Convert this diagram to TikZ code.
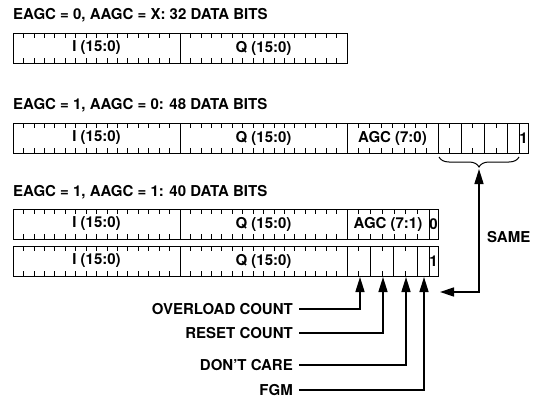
\documentclass[tikz,border=0pt]{standalone}
\usepackage{fontspec}
\setmainfont{TeX Gyre Heros}
\usetikzlibrary{arrows.meta,decorations.pathreplacing}
\newcommand\bitticks[5]{\foreach \k in {1,...,#3}{\draw[bittick] ({#1+\k*#2},#4) -- ++(0,5) ({#1+\k*#2},#5) -- ++(0,-5);}}
\begin{document}
\begin{tikzpicture}[x=1pt,y=-1pt,
  every node/.style={inner sep=0pt, font=\fontsize{15}{15}\selectfont\bfseries},
  fld/.style={draw, line width=0.9pt, minimum height=30pt},
  bittick/.style={line width=0.7pt},
  divline/.style={line width=0.9pt},
  title/.style={anchor=base west},
  lbl/.style={anchor=east},
  conn/.style={line width=1.5pt, -{Triangle[length=15pt,width=9pt]}},
  sameconn/.style={line width=1.5pt, {Triangle[length=14pt,width=9pt]}-{Triangle[length=15pt,width=9pt]}},
  bracestyle/.style={line width=1pt, decorate, decoration={brace, mirror, amplitude=10pt}}
]
\fill[white] (0,0) rectangle (540,401);

% ---- Row 1
\node[title] (t1) at (13,20) {EAGC = 0, AAGC = X: 32 DATA BITS};
\node[fld, minimum width=167pt] (r1i) at (96.5,48) {I (15:0)};
\node[fld, minimum width=167pt] (r1q) at (263.5,48) {Q (15:0)};
\bitticks{13}{10.4375}{15}{33}{63}
\bitticks{180}{10.4375}{15}{33}{63}

% ---- Row 2
\node[title] (t2) at (13,110) {EAGC = 1, AAGC = 0: 48 DATA BITS};
\node[fld, minimum width=167pt] (r2i) at (96.5,138) {I (15:0)};
\node[fld, minimum width=167pt] (r2q) at (263.5,138) {Q (15:0)};
\node[fld, minimum width=91pt] (r2a) at (392.5,138) {AGC (7:0)};
\node[fld, minimum width=81pt] (r2b) at (478.5,138) {};
\node[fld, minimum width=9pt] (r2f) at (523.5,138) {1};
\bitticks{13}{10.4375}{15}{123}{153}
\bitticks{180}{10.4375}{15}{123}{153}
\bitticks{347}{11.375}{7}{123}{153}
\foreach \x in {461.1,484.3,507.4} \draw[divline] (\x,123) -- (\x,153);
\foreach \x in {449.6,472.7,495.9} \draw[bittick] (\x,123) -- ++(0,5) (\x,153) -- ++(0,-5);
\coordinate (brL) at (439,157);
\coordinate (brR) at (519,157);
\draw[bracestyle] (brL) -- (brR);
\coordinate (brtip) at (479,169);

% ---- Row 3
\node[title] (t3) at (13,196) {EAGC = 1, AAGC = 1: 40 DATA BITS};
\node[fld, minimum width=167pt] (r3i) at (96.5,224) {I (15:0)};
\node[fld, minimum width=167pt] (r3q) at (263.5,224) {Q (15:0)};
\node[fld, minimum width=82pt] (r3a) at (388,224) {AGC (7:1)};
\node[fld, minimum width=9pt] (r3f) at (433.5,224) {0};
\bitticks{13}{10.4375}{15}{209}{239}
\bitticks{180}{10.4375}{15}{209}{239}
\bitticks{347}{11.714}{6}{209}{239}

% ---- Row 4
\node[fld, minimum width=167pt] (r4i) at (96.5,261) {I (15:0)};
\node[fld, minimum width=167pt] (r4q) at (263.5,261) {Q (15:0)};
\node[fld, minimum width=82pt] (r4b) at (388,261) {};
\node[fld, minimum width=9pt] (r4f) at (433.5,261) {1};
\bitticks{13}{10.4375}{15}{246}{276}
\bitticks{180}{10.4375}{15}{246}{276}
\foreach \x in {370.4,393.9,417.3} \draw[divline] (\x,246) -- (\x,276);
\foreach \x in {358.7,382.1,405.6} \draw[bittick] (\x,246) -- ++(0,5) (\x,276) -- ++(0,-5);

% ---- SAME
\node[anchor=west] (same) at (487,237) {SAME};
\coordinate (sameL) at (440,292);
\draw[sameconn] (sameL) -| (brtip);

% ---- Bottom labels
\coordinate (a1) at (360,277);
\coordinate (a2) at (383,277);
\coordinate (a3) at (406,277);
\coordinate (a4) at (424,277);
\node[lbl] (ovl) at (293,309) {OVERLOAD COUNT};
\node[lbl] (rst) at (293,333) {RESET COUNT};
\node[lbl] (dc) at (293,365) {DON’T CARE};
\node[lbl] (fgm) at (293,390) {FGM};
\draw[conn] ([xshift=6pt]ovl.east) -| (a1);
\draw[conn] ([xshift=6pt]rst.east) -| (a2);
\draw[conn] ([xshift=6pt]dc.east) -| (a3);
\draw[conn] ([xshift=6pt]fgm.east) -| (a4);
\end{tikzpicture}
\end{document}
